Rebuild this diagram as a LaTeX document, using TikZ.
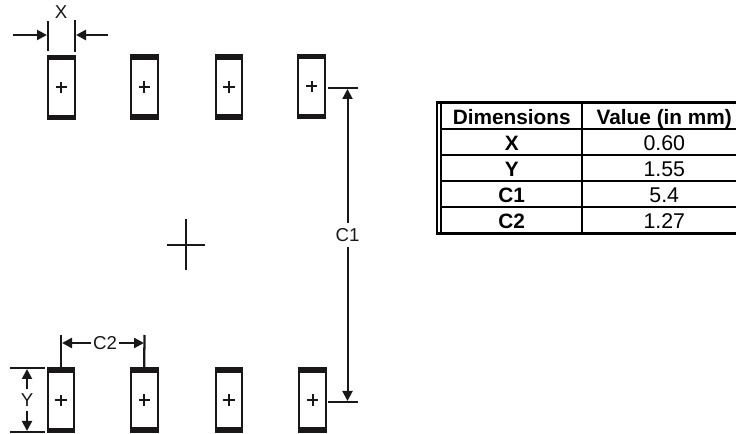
\documentclass[tikz,border=0pt]{standalone}
\usepackage{fontspec}
\setmainfont{Liberation Sans}
\usetikzlibrary{arrows.meta}
\usetikzlibrary{positioning}
\usetikzlibrary{calc}
\definecolor{inkblack}{RGB}{26,23,24}
\tikzset{
	padbox/.style={draw=inkblack,line width=1.5pt,rectangle,minimum width=20pt,minimum height=47.8pt,inner sep=0pt,
		path picture={
			\fill[inkblack] (path picture bounding box.north west) rectangle ($(path picture bounding box.north east)+(0,-3.4pt)$);
			\fill[inkblack] (path picture bounding box.south west) rectangle ($(path picture bounding box.south east)+(0,3.4pt)$);
			\draw[inkblack,line width=1.5pt] ($(path picture bounding box.center)+(-4.2pt,0)$) -- ($(path picture bounding box.center)+(4.2pt,0)$);
			\draw[inkblack,line width=1.5pt] ($(path picture bounding box.center)+(0,-4.2pt)$) -- ($(path picture bounding box.center)+(0,4.2pt)$);
		}},
	dimline/.style={draw=inkblack,line width=1.5pt},
	dimarrow/.style={dimline,-{Triangle[length=7.5pt,width=7.5pt]}},
	dimtext/.style={inner xsep=1pt,inner ysep=3.5pt,text=inkblack,font=\fontsize{14}{16}\selectfont},
	cellbox/.style={draw=black,line width=1.5pt,rectangle,minimum height=19.5pt,inner sep=0pt,text height=12.5pt,text depth=0pt,font=\fontsize{16}{18}\selectfont},
	leftcol/.style={cellbox,minimum width=105.75pt,font=\fontsize{15.6}{18}\selectfont\bfseries},
	rightcol/.style={cellbox,minimum width=123pt},
}
\begin{document}
\begin{tikzpicture}[x=0.75pt,y=-0.75pt]
	\useasboundingbox (0,0) rectangle (736,434);
	% pads
	\node (padta) [padbox] at (61.2,87.5) {};
	\node (padtb) [padbox] at (144.2,87) {};
	\node (padtc) [padbox] at (229,87) {};
	\node (padtd) [padbox] at (311.5,86.5) {};
	\node (padba) [padbox] at (61,400.2) {};
	\node (padbb) [padbox] at (144.2,400) {};
	\node (padbc) [padbox] at (229,400) {};
	\node (padbd) [padbox] at (312.5,400) {};
	% centre mark
	\coordinate (markw) at (167,245);
	\coordinate (marke) at (205,245);
	\coordinate (markn) at (185.7,219);
	\coordinate (marks) at (185.7,270);
	\draw [line width=1.3pt,draw=inkblack] (markw) -- (marke);
	\draw [line width=1.3pt,draw=inkblack] (markn) -- (marks);
	% dimension X
	\node (xlab) [dimtext] at (61,12) {X};
	\coordinate (xlefttop) at (47.7,21);
	\coordinate (xleftbot) at (47.7,51);
	\coordinate (xrighttop) at (75,20);
	\coordinate (xrightbot) at (75,52);
	\coordinate (xleftend) at (13,35);
	\coordinate (xlefttip) at (47,35);
	\coordinate (xrightend) at (108,35);
	\coordinate (xrighttip) at (76,35);
	\draw [dimline] (xlefttop) -- (xleftbot);
	\draw [dimline] (xrighttop) -- (xrightbot);
	\draw [dimarrow] (xleftend) -- (xlefttip);
	\draw [dimarrow,line width=1.9pt] (xrightend) -- (xrighttip);
	% dimension C1
	\node (cilab) [dimtext] at (347.5,235) {C1};
	\coordinate (citopa) at (328,88);
	\coordinate (citopb) at (358,88);
	\coordinate (cibota) at (328,402);
	\coordinate (cibotb) at (358,402);
	\coordinate (citip) at (347.5,89);
	\coordinate (cibtip) at (347.5,401);
	\draw [dimline,line width=1.8pt] (citopa) -- (citopb);
	\draw [dimline,line width=1.8pt] (cibota) -- (cibotb);
	\draw [dimarrow] (cilab) -- (citip);
	\draw [dimarrow] (cilab) -- (cibtip);
	% dimension C2
	\node (ciilab) [dimtext] at (105,343) {C2};
	\coordinate (ciia) at (61,335);
	\coordinate (ciib) at (144.5,335);
	\coordinate (ciital) at (62,343);
	\coordinate (ciitar) at (144,343);
	\draw [dimline] (ciia) -- (padba.north);
	\draw [dimline,line width=1.7pt] (ciib) -- (padbb.north);
	\draw [dimarrow,line width=1.7pt] (ciilab) -- (ciital);
	\draw [dimarrow,line width=1.7pt] (ciilab) -- (ciitar);
	% dimension Y
	\node (ylab) [dimtext] at (27,400) {Y};
	\coordinate (ytopa) at (10,368);
	\coordinate (ytopb) at (45,368);
	\coordinate (ybota) at (10,432);
	\coordinate (ybotb) at (45,432);
	\coordinate (ytip) at (27,369);
	\coordinate (ybtip) at (27,431);
	\draw [dimline] (ytopa) -- (ytopb);
	\draw [dimline] (ybota) -- (ybotb);
	\draw [dimarrow] (ylab) -- (ytip);
	\draw [dimarrow] (ylab) -- (ybtip);
	% table
	\matrix (dimtable) [anchor=north west,inner sep=0pt,row sep=-1.5pt,column sep=-1.5pt] at (440,101.5) {
		\node (headdim) [leftcol] {Dimensions}; &
		\node (headval) [rightcol,font=\fontsize{15.6}{18}\selectfont\bfseries] {Value (in mm)}; \\
		\node (rowx) [leftcol] {X}; & \node (valx) [rightcol] {0.60}; \\
		\node (rowy) [leftcol] {Y}; & \node (valy) [rightcol] {1.55}; \\
		\node (rowci) [leftcol] {C1}; & \node (valci) [rightcol] {5.4}; \\
		\node (rowcii) [leftcol] {C2}; & \node (valcii) [rightcol] {1.27}; \\
	};
	\coordinate (tabnw) at (436,102.3);
	\coordinate (tabne) at (736,102.3);
	\coordinate (tabsw) at (436,233.7);
	\coordinate (tabse) at (736,233.7);
	\coordinate (tabwn) at (437,101);
	\coordinate (tabws) at (437,235);
	\draw [line width=2.4pt] (tabnw) -- (tabne);
	\draw [line width=2.4pt] (tabsw) -- (tabse);
	\draw [line width=1.5pt] (tabwn) -- (tabws);
\end{tikzpicture}
\end{document}
